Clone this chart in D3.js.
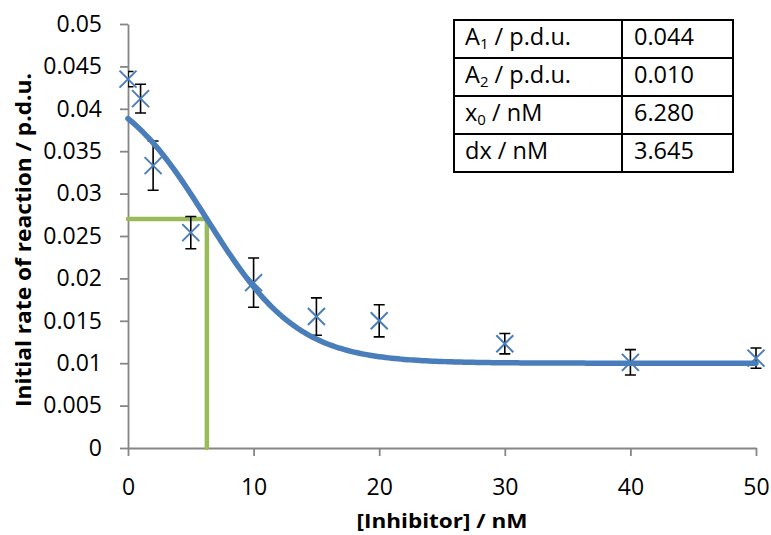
<!DOCTYPE html>
<html>
<head>
<meta charset="utf-8">
<script src="https://cdn.jsdelivr.net/npm/d3@7"></script>
<style>
  html, body { margin: 0; padding: 0; background: #fff; }
  svg { display: block; }
  text { font-family: "Open Sans", "Noto Sans", sans-serif; fill: #000; }
</style>
</head>
<body>
<svg id="chart" width="771" height="535"></svg>
<script>
// Measured initial rates with their error bars
const inhibitorNM = [0, 1, 2, 5, 10, 15, 20, 30, 40, 50];
const initialRate = [0.0435, 0.0412, 0.0333, 0.0254, 0.0195, 0.0155, 0.0150, 0.0123, 0.0101, 0.0106];
const rateError   = [0.0009, 0.0017, 0.0029, 0.0019, 0.0029, 0.0022, 0.0019, 0.0012, 0.0015, 0.0012];

// Boltzmann fit parameters shown in the table
const fitLabels = [["A", "1", " / p.d.u."], ["A", "2", " / p.d.u."], ["x", "0", " / nM"], ["dx", "", " / nM"]];
const fitValues = [0.044, 0.010, 6.280, 3.645];
const fitText   = ["0.044", "0.010", "6.280", "3.645"];

// Axis ticks
const xTicks = [0, 10, 20, 30, 40, 50];
const xTickLabels = ["0", "10", "20", "30", "40", "50"];
const yTicks = [0, 0.005, 0.01, 0.015, 0.02, 0.025, 0.03, 0.035, 0.04, 0.045, 0.05];
const yTickLabels = ["0", "0.005", "0.01", "0.015", "0.02", "0.025", "0.03", "0.035", "0.04", "0.045", "0.05"];

const svg = d3.select("#chart");
const x = d3.scaleLinear().domain([0, 50]).range([128, 756]);
const y = d3.scaleLinear().domain([0, 0.05]).range([448, 24]);

const blue = "#4a7ebb", green = "#9bbb59", axisGrey = "#868686";

// clip region for the plot area
svg.append("defs").append("clipPath").attr("id", "plotClip")
  .append("rect").attr("x", x(0)).attr("y", y(0.05) - 10)
  .attr("width", x(50) - x(0) + 10).attr("height", y(0) - y(0.05) + 10);

// Axes
const yAxis = d3.axisLeft(y).tickValues(yTicks).tickSize(8).tickSizeOuter(0).tickPadding(18)
  .tickFormat((d, i) => yTickLabels[i]);
const xAxis = d3.axisBottom(x).tickValues(xTicks).tickSize(8).tickSizeOuter(0).tickPadding(23)
  .tickFormat((d, i) => xTickLabels[i]);

const gy = svg.append("g").attr("transform", `translate(${x(0)},0)`).call(yAxis);
const gx = svg.append("g").attr("transform", `translate(0,${y(0)})`).call(xAxis);
[gx, gy].forEach(g => {
  g.select(".domain").attr("stroke", axisGrey).attr("stroke-width", 1.8);
  g.selectAll(".tick line").attr("stroke", axisGrey).attr("stroke-width", 1.8);
  g.selectAll(".tick text").attr("font-size", 23).attr("font-family", "'Open Sans', sans-serif").attr("fill", "#000");
});
gx.selectAll(".tick text").attr("dy", "0.68em");

// Axis titles
svg.append("text")
  .attr("transform", `translate(31,240) scale(1.15,1) rotate(-90)`)
  .attr("text-anchor", "middle")
  .attr("font-size", 19).attr("font-weight", "bold")
  .attr("textLength", 334).attr("lengthAdjust", "spacingAndGlyphs")
  .text("Initial rate of reaction / p.d.u.");

svg.append("text")
  .attr("x", 442).attr("y", 528)
  .attr("text-anchor", "middle")
  .attr("font-size", 20).attr("font-weight", "bold")
  .attr("textLength", 171).attr("lengthAdjust", "spacingAndGlyphs")
  .text("[Inhibitor] / nM");

// Half-maximum guide: from A1/A2 midpoint at x0
const [A1, A2, x0, dx] = fitValues;
const halfRate = (A1 + A2) / 2;
svg.append("path")
  .attr("d", d3.line()([[x(0), y(halfRate)], [x(x0), y(halfRate)], [x(x0), y(0)]]))
  .attr("fill", "none").attr("stroke", green).attr("stroke-width", 4.5)
  .attr("stroke-linejoin", "miter").attr("stroke-linecap", "round");

// Error bars
const pts = inhibitorNM.map((v, i) => ({ x: v, y: initialRate[i], e: rateError[i] }));
const eb = svg.append("g").attr("clip-path", "url(#plotClip)")
  .attr("stroke", "#000").attr("stroke-width", 1.6).attr("fill", "none");
eb.selectAll("path").data(pts).join("path")
  .attr("d", d => {
    const cx = x(d.x), t = y(d.y + d.e), b = y(d.y - d.e), w = 5.5;
    return `M${cx},${t}V${b}M${cx - w},${t}H${cx + w}M${cx - w},${b}H${cx + w}`;
  });

// X markers
const m = 8.5;
svg.append("g").attr("stroke", blue).attr("stroke-width", 2).attr("fill", "none")
  .selectAll("path").data(pts).join("path")
  .attr("d", d => {
    const cx = x(d.x), cy = y(d.y);
    return `M${cx - m},${cy - m}L${cx + m},${cy + m}M${cx - m},${cy + m}L${cx + m},${cy - m}`;
  });

// Fitted Boltzmann curve
const boltzmann = v => A2 + (A1 - A2) / (1 + Math.exp((v - x0) / dx));
const xs = d3.range(0, 50.001, 0.25);
svg.append("path")
  .attr("d", d3.line().x(v => x(v)).y(v => y(boltzmann(v)))(xs))
  .attr("fill", "none").attr("stroke", blue).attr("stroke-width", 5.5)
  .attr("stroke-linecap", "round").attr("stroke-linejoin", "round");

// Parameter table
const tbl = svg.append("g");
const tx0 = 454, tx1 = 622, tx2 = 733, ty0 = 20, rowH = 38;
tbl.append("rect").attr("x", tx0).attr("y", ty0).attr("width", tx2 - tx0).attr("height", rowH * 4)
  .attr("fill", "#fff").attr("stroke", "#000").attr("stroke-width", 2);
tbl.append("line").attr("x1", tx1).attr("x2", tx1).attr("y1", ty0).attr("y2", ty0 + rowH * 4)
  .attr("stroke", "#000").attr("stroke-width", 2);
for (let r = 1; r < 4; r++) {
  tbl.append("line").attr("x1", tx0).attr("x2", tx2).attr("y1", ty0 + rowH * r).attr("y2", ty0 + rowH * r)
    .attr("stroke", "#000").attr("stroke-width", 2);
}
fitLabels.forEach((lab, r) => {
  const base = ty0 + rowH * r + 25;
  const t = tbl.append("text").attr("x", 465).attr("y", base).attr("font-size", 23.5);
  t.append("tspan").text(lab[0]);
  if (lab[1]) t.append("tspan").attr("font-size", 15).attr("dy", 4).text(lab[1]);
  t.append("tspan").attr("dy", lab[1] ? -4 : 0).text(lab[2]);
  tbl.append("text").attr("x", 634).attr("y", base).attr("font-size", 23.5).text(fitText[r]);
});
</script>
</body>
</html>
